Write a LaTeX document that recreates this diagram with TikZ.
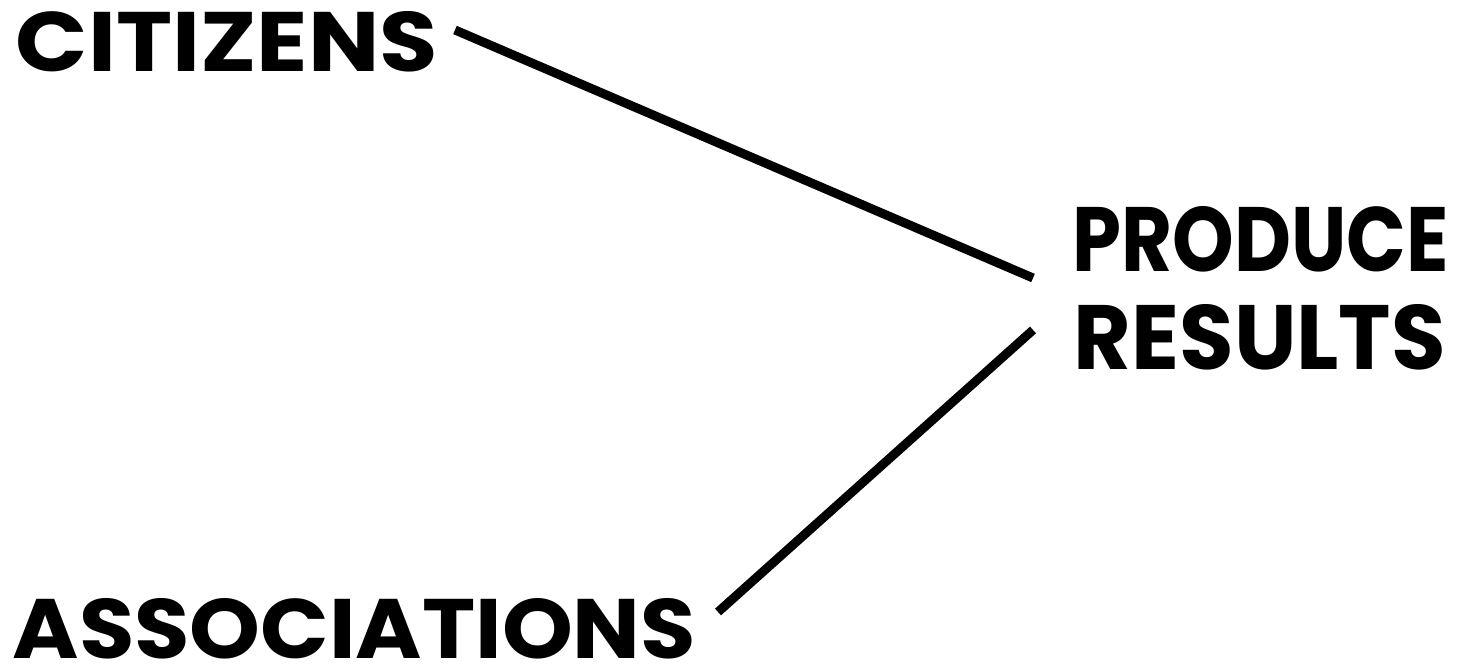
\documentclass[tikz,border=0pt]{standalone}
\usepackage{fontspec}
\setmainfont{Poppins}
\begin{document}
\begin{tikzpicture}[x=0.01cm,y=-0.01cm,
  lbl/.style={inner sep=0pt,anchor=base west,font=\fontsize{23}{28}\selectfont\bfseries},
  conn/.style={line width=0.09cm}]
\useasboundingbox (0,0) rectangle (1460,671);
\node[lbl] (cit) at (15,72) {\resizebox{4.22cm}{0.60cm}{CITIZENS}};
\node[lbl] (assoc) at (12,659) {\resizebox{6.83cm}{0.60cm}{ASSOCIATIONS}};
\node[lbl] (prod) at (1072,272) {\resizebox{3.76cm}{0.65cm}{PRODUCE}};
\node[lbl] (res) at (1073,370) {\resizebox{3.72cm}{0.65cm}{RESULTS}};
\coordinate (a1) at (455,30);
\coordinate (a2) at (1033,278);
\coordinate (b1) at (1033,330);
\coordinate (b2) at (718,612);
\draw[conn] (a1) -- (a2);
\draw[conn] (b1) -- (b2);
\end{tikzpicture}
\end{document}
